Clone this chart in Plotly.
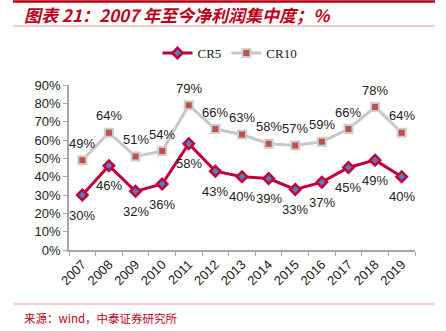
import plotly.graph_objects as go

years = ["2007", "2008", "2009", "2010", "2011", "2012", "2013",
         "2014", "2015", "2016", "2017", "2018", "2019"]
cr5 = [30, 46, 32, 36, 58, 43, 40, 39, 33, 37, 45, 49, 40]
cr10 = [49, 64, 51, 54, 79, 66, 63, 58, 57, 59, 66, 78, 64]
y_ticks = list(range(0, 91, 10))

W, H = 446, 331
L, R, T, B = 69, 415, 85, 250  # plot area in pixels


def px(x):
    return (x - L) / (R - L)


def py(y):
    return (B - y) / (B - T)


label_font = dict(family="Liberation Sans, Arial", size=13, color="#222222")

fig = go.Figure()

fig.add_trace(go.Scatter(
    x=years, y=cr5, name="CR5", mode="lines+markers",
    line=dict(color="#C4003A", width=3),
    marker=dict(symbol="diamond", size=8, color="#4F81BD",
                line=dict(color="#C4003A", width=2.5)),
    cliponaxis=False,
))

fig.add_trace(go.Scatter(
    x=years, y=cr10, name="CR10", mode="lines+markers",
    line=dict(color="#C8C8C8", width=3),
    marker=dict(symbol="square", size=8, color="#C0504D",
                line=dict(color="#CDCDCD", width=2)),
    cliponaxis=False,
))

red = "#C00018"
pink = "#E99A9A"
shapes = [
    dict(type="line", xref="paper", yref="paper", x0=px(13), x1=px(435),
         y0=py(1.5), y1=py(1.5), line=dict(color="#B80012", width=2.5)),
    dict(type="line", xref="paper", yref="paper", x0=px(13), x1=px(435),
         y0=py(26), y1=py(26), line=dict(color=pink, width=1.2)),
    dict(type="line", xref="paper", yref="paper", x0=px(13), x1=px(435),
         y0=py(304), y1=py(304), line=dict(color=pink, width=1.2)),
]

annotations = [
    dict(text="<b><i>图表 21：2007 年至今净利润集中度；%</i></b>",
         xref="paper", yref="paper", x=px(22), y=py(15),
         xanchor="left", yanchor="middle", showarrow=False,
         font=dict(family="Noto Sans CJK SC", size=17, color=red)),
    dict(text="来源：wind，中泰证券研究所",
         xref="paper", yref="paper", x=px(22), y=py(318),
         xanchor="left", yanchor="middle", showarrow=False,
         font=dict(family="Noto Sans CJK SC", size=11.5, color=red)),
]

# value labels (category axis positions are indices): CR5 below, CR10 above
for i, v in enumerate(cr5):
    annotations.append(dict(x=i, y=v, xref="x", yref="y", text=f"{v}%",
                            showarrow=False, yshift=-20, font=label_font))
for i, v in enumerate(cr10):
    annotations.append(dict(x=i, y=v, xref="x", yref="y", text=f"{v}%",
                            showarrow=False, yshift=17, font=label_font))

fig.update_layout(
    width=W, height=H,
    margin=dict(l=L, r=W - R, t=T, b=H - B, pad=0),
    paper_bgcolor="white", plot_bgcolor="white",
    showlegend=True,
    legend=dict(orientation="h", x=px(230), y=py(53),
                xanchor="center", yanchor="middle",
                font=dict(family="Liberation Serif, Times New Roman", size=13,
                          color="#222222"),
                bgcolor="rgba(0,0,0,0)"),
    shapes=shapes, annotations=annotations,
)

fig.update_xaxes(
    type="category", range=[-0.5, len(years) - 0.5],
    showgrid=False, showline=True,
    linecolor="#A6A6A6", linewidth=1.5,
    ticks="outside", ticklen=4, tickcolor="#A6A6A6", tickson="boundaries",
    tickangle=-45,
    tickfont=dict(family="Liberation Sans, Arial", size=13, color="#222222"),
)

fig.update_yaxes(
    range=[0, 90], tickvals=y_ticks, ticktext=[f"{v}%" for v in y_ticks],
    showgrid=False, showline=True, linecolor="#A6A6A6", linewidth=1.5,
    ticks="outside", ticklen=4, tickcolor="#A6A6A6", zeroline=False,
    tickfont=dict(family="Liberation Sans, Arial", size=13, color="#222222"),
)

fig.write_html("out.html")
